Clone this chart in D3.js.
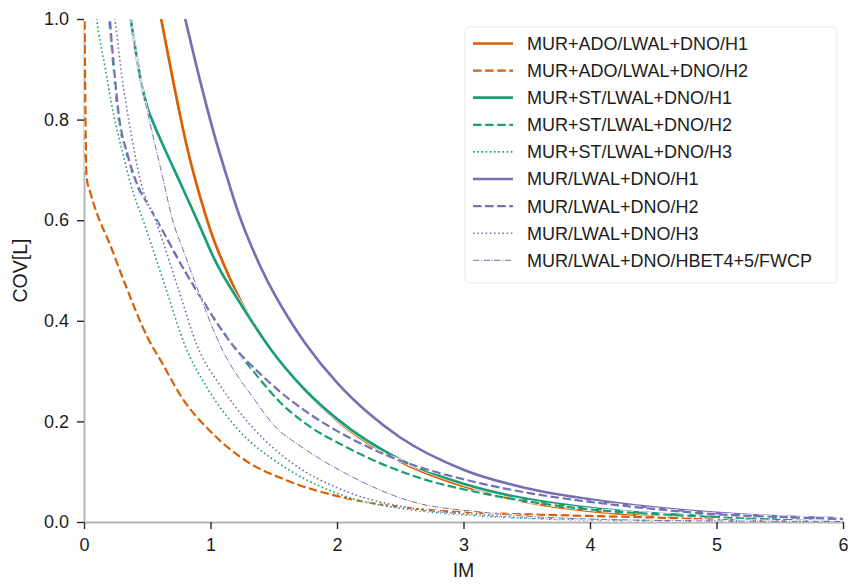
<!DOCTYPE html>
<html>
<head>
<meta charset="utf-8">
<script src="https://cdn.jsdelivr.net/npm/d3@7"></script>
<style>
  body { margin: 0; background: #ffffff; }
  svg { display: block; }
  text { font-family: "Liberation Sans", Arial, Helvetica, sans-serif; fill: #1c1c1c; }
</style>
</head>
<body>
<svg id="chart" width="848" height="585"></svg>
<script>
// ---- data: coefficient of variation of loss vs intensity measure ----
const seriesLabels = [
  "MUR+ADO/LWAL+DNO/H1",
  "MUR+ADO/LWAL+DNO/H2",
  "MUR+ST/LWAL+DNO/H1",
  "MUR+ST/LWAL+DNO/H2",
  "MUR+ST/LWAL+DNO/H3",
  "MUR/LWAL+DNO/H1",
  "MUR/LWAL+DNO/H2",
  "MUR/LWAL+DNO/H3",
  "MUR/LWAL+DNO/HBET4+5/FWCP"
];

const imAdoH1  = [0.595, 0.61, 0.706, 0.81, 0.943, 1.02, 1.1, 1.29, 1.5, 1.75, 2.0, 2.5, 3.0, 3.5, 4.0, 4.5, 5.0, 5.5, 6.0];
const covAdoH1 = [1.02, 1.0, 0.875, 0.75, 0.625, 0.565, 0.515, 0.415, 0.335, 0.262, 0.202, 0.12, 0.071, 0.04, 0.022, 0.012, 0.007, 0.004, 0.002];

const imAdoH2  = [0.004, 0.008, 0.014, 0.02, 0.05, 0.1, 0.2, 0.33, 0.5, 0.62, 0.78, 1.0, 1.29, 1.6, 2.08, 2.6, 3.13, 3.53, 4.0, 4.5, 5.0, 5.5, 6.0];
const covAdoH2 = [1.02, 0.9, 0.76, 0.685, 0.655, 0.615, 0.555, 0.47, 0.368, 0.315, 0.245, 0.18, 0.12, 0.083, 0.047, 0.027, 0.018, 0.015, 0.012, 0.009, 0.006, 0.004, 0.002];

const imStH1  = [0.36, 0.37, 0.41, 0.455, 0.5, 0.55, 0.65, 0.76, 0.9, 1.036, 1.26, 1.48, 1.75, 2.0, 2.5, 3.0, 3.5, 4.0, 4.5, 5.0, 5.5, 6.0];
const covStH1 = [1.02, 1.0, 0.935, 0.87, 0.825, 0.792, 0.735, 0.675, 0.597, 0.52, 0.425, 0.342, 0.262, 0.205, 0.124, 0.076, 0.046, 0.028, 0.017, 0.011, 0.007, 0.005];

const imStH2  = [0.195, 0.2, 0.23, 0.27, 0.34, 0.41, 0.52, 0.63, 0.76, 0.89, 1.04, 1.19, 1.37, 1.55, 1.75, 2.08, 2.6, 3.13, 3.53, 4.0, 4.5, 5.0, 5.5, 6.0];
const covStH2 = [1.02, 1.0, 0.91, 0.81, 0.73, 0.675, 0.625, 0.575, 0.515, 0.46, 0.4, 0.347, 0.29, 0.238, 0.196, 0.148, 0.092, 0.058, 0.04, 0.025, 0.016, 0.01, 0.006, 0.004];

const imStH3  = [0.095, 0.1, 0.166, 0.23, 0.31, 0.36, 0.495, 0.65, 0.8, 0.97, 1.21, 1.55, 1.63, 2.08, 2.6, 3.13, 3.53, 4.0, 5.0, 6.0];
const covStH3 = [1.01, 1.0, 0.905, 0.815, 0.73, 0.68, 0.58, 0.462, 0.35, 0.268, 0.186, 0.115, 0.102, 0.05, 0.024, 0.012, 0.007, 0.004, 0.002, 0.001];

const imMurH1  = [0.78, 0.8, 0.92, 1.05, 1.13, 1.22, 1.4, 1.63, 1.75, 2.0, 2.25, 2.5, 3.0, 3.5, 4.0, 4.5, 5.0, 5.5, 6.0];
const covMurH1 = [1.021, 1.0, 0.875, 0.752, 0.686, 0.615, 0.505, 0.4, 0.355, 0.277, 0.216, 0.168, 0.104, 0.067, 0.045, 0.029, 0.018, 0.011, 0.007];

const imMurH2  = [0.2, 0.205, 0.235, 0.275, 0.345, 0.415, 0.525, 0.635, 0.76, 0.89, 1.04, 1.19, 1.37, 1.55, 1.8, 2.08, 2.47, 3.0, 3.53, 4.0, 4.5, 5.03, 5.5, 6.0];
const covMurH2 = [1.02, 1.0, 0.91, 0.81, 0.73, 0.675, 0.623, 0.573, 0.515, 0.46, 0.4, 0.347, 0.3, 0.259, 0.212, 0.17, 0.125, 0.085, 0.057, 0.04, 0.026, 0.015, 0.01, 0.006];

const imMurH3  = [0.24, 0.245, 0.3, 0.36, 0.45, 0.574, 0.75, 0.9, 1.075, 1.29, 1.42, 1.63, 2.08, 2.6, 3.13, 3.53, 4.0, 5.0, 6.0];
const covMurH3 = [1.01, 1.0, 0.885, 0.79, 0.675, 0.594, 0.46, 0.347, 0.272, 0.2, 0.165, 0.12, 0.06, 0.027, 0.014, 0.008, 0.005, 0.002, 0.001];

const imMurFwcp  = [0.36, 0.37, 0.41, 0.455, 0.52, 0.627, 0.69, 0.8, 0.92, 1.075, 1.34, 1.55, 1.63, 2.08, 2.6, 3.13, 3.53, 4.0, 5.0, 6.0];
const covMurFwcp = [1.02, 1.0, 0.935, 0.87, 0.795, 0.68, 0.61, 0.53, 0.448, 0.352, 0.246, 0.18, 0.165, 0.095, 0.04, 0.02, 0.011, 0.006, 0.002, 0.001];

const imTicks  = [0, 1, 2, 3, 4, 5, 6];
const covTicks = [0.0, 0.2, 0.4, 0.6, 0.8, 1.0];

// ---- appearance ----
const palette = { ado: "#d95f02", st: "#1b9e77", mur: "#7570b3" };
const lineStyles = {
  solid:   { width: 2.7, dash: null },
  dashed:  { width: 2.2, dash: [8.5, 3.6] },
  dotted:  { width: 1.6, dash: [1.6, 2.6] },
  dashdot: { width: 1.0, dash: [6.4, 1.6, 1.0, 1.6] }
};

const series = [
  { im: imAdoH1,   cov: covAdoH1,   color: palette.ado, style: "solid" },
  { im: imAdoH2,   cov: covAdoH2,   color: palette.ado, style: "dashed" },
  { im: imStH1,    cov: covStH1,    color: palette.st,  style: "solid" },
  { im: imStH2,    cov: covStH2,    color: palette.st,  style: "dashed" },
  { im: imStH3,    cov: covStH3,    color: palette.st,  style: "dotted" },
  { im: imMurH1,   cov: covMurH1,   color: palette.mur, style: "solid" },
  { im: imMurH2,   cov: covMurH2,   color: palette.mur, style: "dashed" },
  { im: imMurH3,   cov: covMurH3,   color: palette.mur, style: "dotted" },
  { im: imMurFwcp, cov: covMurFwcp, color: palette.mur, style: "dashdot" }
].map((s, i) => ({ ...s, label: seriesLabels[i] }));

// ---- layout ----
const svg = d3.select("#chart");
const plot = { left: 84, right: 843, top: 19, bottom: 522 };

const x = d3.scaleLinear().domain([0, 6]).range([plot.left, plot.right]);
const y = d3.scaleLinear().domain([0, 1]).range([plot.bottom, plot.top]);

svg.append("defs").append("clipPath").attr("id", "plot-clip")
  .append("rect")
  .attr("x", plot.left).attr("y", plot.top)
  .attr("width", plot.right - plot.left + 2)
  .attr("height", plot.bottom - plot.top);

// axes
const xAxis = svg.append("g")
  .attr("transform", `translate(0,${plot.bottom})`)
  .call(d3.axisBottom(x).tickValues(imTicks).tickFormat(d3.format("d"))
    .tickSize(7).tickSizeOuter(0).tickPadding(9));

const yAxis = svg.append("g")
  .attr("transform", `translate(${plot.left},0)`)
  .call(d3.axisLeft(y).tickValues(covTicks).tickFormat(d3.format(".1f"))
    .tickSize(7).tickSizeOuter(0).tickPadding(8));

[xAxis, yAxis].forEach(g => {
  g.select(".domain").attr("stroke", "#b5b5b5").attr("stroke-width", 2);
  g.selectAll(".tick line").attr("stroke", "#262626").attr("stroke-width", 1.4);
  g.selectAll(".tick text").attr("font-size", 18).attr("fill", "#1c1c1c")
    .style("font-family", '"Liberation Sans", Arial, sans-serif');
});

svg.append("text")
  .attr("x", (plot.left + plot.right) / 2).attr("y", 577)
  .attr("text-anchor", "middle").attr("font-size", 19.5)
  .text("IM");

svg.append("text")
  .attr("transform", `translate(27,${(plot.top + plot.bottom) / 2}) rotate(-90)`)
  .attr("text-anchor", "middle").attr("font-size", 19.5)
  .text("COV[L]");

// curves: each drawn over a slightly wider white stroke
const lineGen = d3.line()
  .x(d => x(d[0])).y(d => y(d[1]))
  .curve(d3.curveMonotoneX);

const curves = svg.append("g").attr("clip-path", "url(#plot-clip)");

function dashFor(st, w) {
  if (!st.dash) return null;
  const k = w / st.width;
  return st.dash.map(v => (v * k).toFixed(2)).join(",");
}

series.forEach(s => {
  const st = lineStyles[s.style];
  const pts = d3.zip(s.im, s.cov);
  const haloW = st.width + 1.2;
  curves.append("path")
    .attr("d", lineGen(pts))
    .attr("fill", "none")
    .attr("stroke", "#ffffff")
    .attr("stroke-width", haloW)
    .attr("stroke-dasharray", dashFor(st, haloW));
  curves.append("path")
    .attr("d", lineGen(pts))
    .attr("fill", "none")
    .attr("stroke", s.color)
    .attr("stroke-width", st.width)
    .attr("stroke-dasharray", dashFor(st, st.width));
});

// legend
const legend = svg.append("g");
const legendBox = { x: 465, y: 27, w: 372, h: 256 };
legend.append("rect")
  .attr("x", legendBox.x).attr("y", legendBox.y)
  .attr("width", legendBox.w).attr("height", legendBox.h)
  .attr("rx", 4)
  .attr("fill", "#ffffff").attr("fill-opacity", 0.8)
  .attr("stroke", "#ebebeb").attr("stroke-width", 1);

const rowStart = 43.5, rowStep = 27.1;
series.forEach((s, i) => {
  const st = lineStyles[s.style];
  const cy = rowStart + i * rowStep;
  legend.append("line")
    .attr("x1", 473).attr("x2", 513).attr("y1", cy).attr("y2", cy)
    .attr("stroke", s.color)
    .attr("stroke-width", st.width)
    .attr("stroke-dasharray", dashFor(st, st.width));
  legend.append("text")
    .attr("x", 527).attr("y", cy).attr("dy", "0.36em")
    .attr("font-size", 18)
    .text(s.label);
});
</script>
</body>
</html>
